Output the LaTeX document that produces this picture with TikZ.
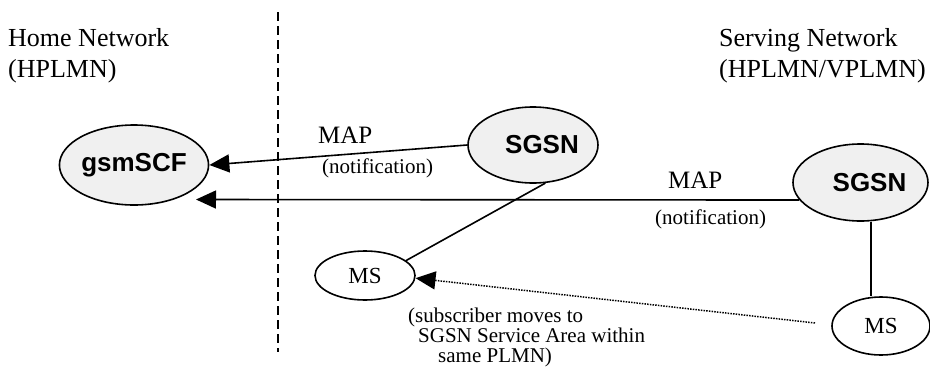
\documentclass[tikz,border=0pt]{standalone}
\usepackage{fontspec}
\setmainfont{Liberation Serif}
\newfontfamily\arialfont{Liberation Sans}
\usetikzlibrary{arrows.meta,shapes.geometric}
\begin{document}
\begin{tikzpicture}[x=1pt,y=-1pt,
  ent/.style={ellipse,draw,line width=1.6pt,fill=black!6,inner sep=0pt,
    font=\arialfont\bfseries\fontsize{26}{30}\selectfont},
  msnode/.style={ellipse,draw,line width=1.6pt,fill=white,inner sep=0pt,
    font=\fontsize{23}{27}\selectfont},
  link/.style={line width=1.6pt},
  arr/.style={line width=1.6pt,-{Triangle[length=20pt,width=18pt]}},
  dotarr/.style={line width=1.5pt,dash pattern=on 1.5pt off 1.2pt,-{Triangle[length=20pt,width=18pt]}},
  head/.style={inner sep=0pt,align=left,font=\fontsize{26}{31}\selectfont},
  maplbl/.style={inner sep=0pt,font=\fontsize{25}{30}\selectfont},
  notelbl/.style={inner sep=0pt,font=\fontsize{21}{25}\selectfont},
  divider/.style={line width=2.6pt,dash pattern=on 9pt off 5pt}
]
\useasboundingbox (0,0) rectangle (930,370);
\fill[white] (0,0) rectangle (930,370);

% divider
\coordinate (dtop) at (278,12);
\coordinate (dbot) at (278,352);
\draw[divider] (dtop) -- (dbot);

% headings
\node[head,anchor=north west] (home) at (8,28.2) {Home Network\\(HPLMN)};
\node[head,anchor=north west] (serv) at (719,28.2) {Serving Network\\(HPLMN/VPLMN)};

% entities
\node[ent,minimum width=134pt,minimum height=80pt] (gsm) at (134,165) {\raisebox{-2pt}{gsmSCF}};
\node[ent,minimum width=130pt,minimum height=76pt] (sgsn1) at (533,145) {\hspace*{18pt}\raisebox{-3pt}{SGSN}};
\node[ent,minimum width=135pt,minimum height=77pt] (sgsn2) at (860.5,182.5) {\hspace*{18pt}\raisebox{-3pt}{SGSN}};
\node[msnode,minimum width=100pt,minimum height=49pt] (ms1) at (365,275.5) {MS};
\node[msnode,minimum width=98pt,minimum height=58pt] (ms2) at (881,326) {MS};

% connectors
\draw[arr] (sgsn1.west) -- (gsm.east);
\coordinate (t2) at (196,199.5);
\draw[arr] (sgsn2.196) -- (t2);
\draw[link] (sgsn1.-72) -- (ms1.20);
\draw[link] ([xshift=10.5pt]sgsn2.south) -- ([xshift=-10pt]ms2.north);
\coordinate (d0) at (815,323);
\draw[dotarr] (d0) -- (ms1.-3);

% labels
\node[maplbl,anchor=base west] (map1) at (318,143) {MAP};
\node[notelbl,anchor=base west] (not1) at (322,173) {(notification)};
\node[maplbl,anchor=base west] (map2) at (668,188) {MAP};
\node[notelbl,anchor=base west] (not2) at (655,224) {(notification)};
\node[inner sep=0pt,align=left,anchor=north west,font=\fontsize{21}{20}\selectfont] (cap) at (408,307.4)
  {(subscriber moves to\\\hspace*{10pt}SGSN Service Area within\\\hspace*{30pt}same PLMN)};
\end{tikzpicture}
\end{document}
